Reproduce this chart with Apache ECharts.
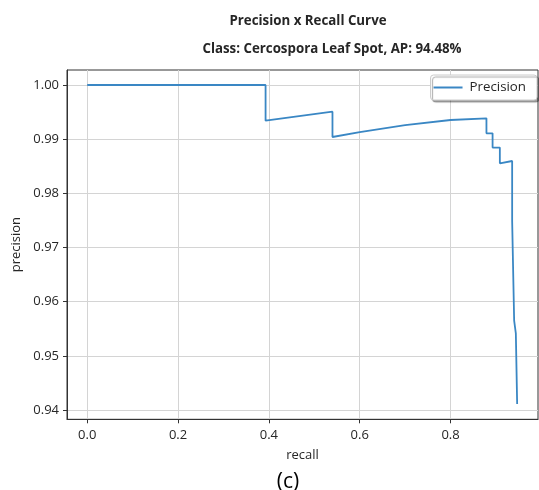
<!DOCTYPE html>
<html>
<head>
<meta charset="utf-8">
<script src="https://cdn.jsdelivr.net/npm/echarts@6/dist/echarts.min.js"></script>
<style>
html,body{margin:0;padding:0;background:#fff;}
#c{width:539px;height:490px;}
</style>
</head>
<body>
<div id="c"></div>
<script>
// Data
const recall = [0, 0.3927, 0.3927, 0.540, 0.540, 0.60, 0.70, 0.80, 0.879, 0.879, 0.8925, 0.8925, 0.9085, 0.9085, 0.9356, 0.9356, 0.940, 0.940, 0.9437, 0.9437, 0.9466, 0.9466];
const precision = [1.0, 1.0, 0.99341, 0.99507, 0.9904, 0.99132, 0.9926, 0.99354, 0.99385, 0.99108, 0.99108, 0.98844, 0.98844, 0.98554, 0.98597, 0.9749, 0.9749, 0.95649, 0.95649, 0.95416, 0.95416, 0.9411];
const xTicks = [0.0, 0.2, 0.4, 0.6, 0.8];
const yTicks = [0.94, 0.95, 0.96, 0.97, 0.98, 0.99, 1.00];
const seriesName = 'Precision';
const titleText = 'Precision x Recall Curve';
const subtitleText = 'Class: Cercospora Leaf Spot, AP: 94.48%';
const xName = 'recall';
const yName = 'precision';
const panelLabel = '(c)';

const pts = recall.map((r, i) => [r, precision[i]]);

const FONT = '"Open Sans", "Noto Sans", sans-serif';
const TXT = '#262626';
const LINE = '#3a87c4';

const chart = echarts.init(document.getElementById('c'), null, {renderer: 'canvas'});
chart.setOption({
  backgroundColor: '#ffffff',
  animation: false,
  textStyle: {fontFamily: FONT},
  title: [
    {text: titleText, left: 303, top: 10, textAlign: 'center',
     textStyle: {fontFamily: FONT, fontSize: 13.3, fontWeight: 'bold', color: TXT}},
    {text: subtitleText, left: 327, top: 38, textAlign: 'center',
     textStyle: {fontFamily: FONT, fontSize: 13.3, fontWeight: 'bold', color: TXT}},
    {text: panelLabel, left: 283, top: 467, textAlign: 'center',
     textStyle: {fontFamily: FONT, fontSize: 21, fontWeight: 'normal', color: '#000'}}
  ],
  grid: {left: 67, right: 1, top: 70, bottom: 70.7, show: true,
         borderColor: '#333', borderWidth: 1, backgroundColor: '#fff'},
  legend: {
    data: [{name: seriesName, icon: 'rect'}], right: 2, top: 75,
    orient: 'horizontal',
    itemWidth: 29, itemHeight: 2, itemGap: 10,
    padding: [6, 11, 6, 3],
    itemStyle: {color: LINE},
    lineStyle: {width: 0},
    backgroundColor: '#fff', borderColor: '#cccccc', borderWidth: 1, borderRadius: 3,
    shadowColor: 'rgba(0,0,0,0.35)', shadowOffsetX: 2, shadowOffsetY: 2, shadowBlur: 1,
    textStyle: {fontFamily: FONT, fontSize: 13.3, color: TXT, padding: [0,0,0,2]}
  },
  xAxis: {
    type: 'value', min: -0.0445, max: 0.9925,
    name: xName, nameLocation: 'middle', nameGap: 29,
    nameTextStyle: {fontFamily: FONT, fontSize: 13, color: TXT},
    axisLine: {show: true, onZero: false, lineStyle: {color: '#333', width: 1}},
    axisTick: {show: true, inside: false, length: 4, lineStyle: {color: '#333'}, customValues: xTicks},
    axisLabel: {show: true, margin: 9, fontFamily: FONT, fontSize: 13, color: TXT,
                customValues: xTicks, formatter: v => Number(v).toFixed(1)},
    splitLine: {show: true, lineStyle: {color: '#d4d4d4', width: 1}}
  },
  yAxis: {
    type: 'value', min: 0.93828, max: 1.00277,
    name: yName, nameLocation: 'middle', nameGap: 43, nameRotate: 90,
    nameTextStyle: {fontFamily: FONT, fontSize: 13, color: TXT},
    axisLine: {show: true, onZero: false, lineStyle: {color: '#333', width: 1}},
    axisTick: {show: true, inside: false, length: 4, lineStyle: {color: '#333'}, customValues: yTicks},
    axisLabel: {show: true, margin: 8, fontFamily: FONT, fontSize: 13, color: TXT,
                customValues: yTicks, formatter: v => Number(v).toFixed(2)},
    splitLine: {show: true, lineStyle: {color: '#d4d4d4', width: 1}}
  },
  series: [{
    name: seriesName, type: 'line', data: pts,
    symbol: 'none', showSymbol: false,
    lineStyle: {color: LINE, width: 1.8},
    itemStyle: {color: LINE}
  }]
});
</script>
</body>
</html>
